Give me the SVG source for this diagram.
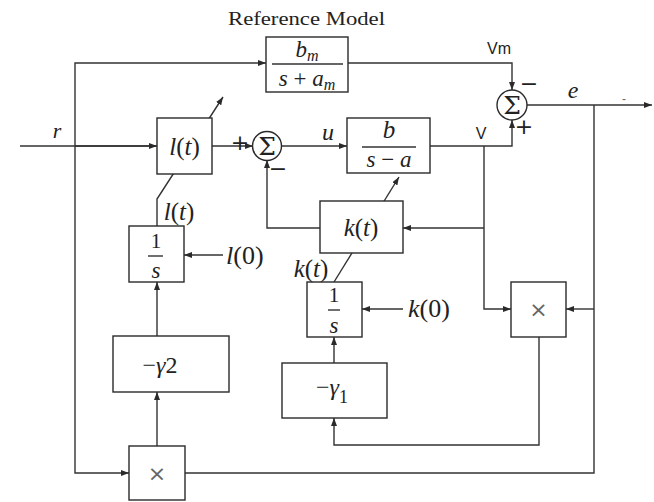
<svg xmlns="http://www.w3.org/2000/svg" width="654" height="502" viewBox="0 0 654 502">
<defs>
<marker id="ah" markerUnits="userSpaceOnUse" markerWidth="9" markerHeight="7" refX="8" refY="3" orient="auto">
<path d="M0,0 L8,3 L0,6 z" fill="#2a2a2a"/>
</marker>
<style>
.w{fill:none;stroke:#333;stroke-width:1.4}
.a{marker-end:url(#ah)}
.b{fill:#fff;stroke:#2a2a2a;stroke-width:1.4}
.m{font-family:"Liberation Serif",serif;font-style:italic;font-size:25px;fill:#222}
.n{font-family:"Liberation Serif",serif;font-size:25px;fill:#222}
.u{font-style:normal}
.s{font-family:"Liberation Sans",sans-serif;font-size:16px;fill:#222}
.sg{font-family:"DejaVu Serif",serif;font-size:25px;fill:#222}
.pm{font-family:"DejaVu Sans",sans-serif;font-size:22px;fill:#222}
.fl{stroke:#333;stroke-width:1.4}
.x{font-family:"DejaVu Sans",sans-serif;font-size:22px;fill:#666}
</style>
</defs>
<rect width="654" height="502" fill="#fff"/>
<g id="connectors">
<path class="w" d="M20,146 H156"/>
<path class="w a" d="M75,146 H157"/>
<path class="w a" d="M75,146 V63 H266"/>
<path class="w a" d="M75,146 V473 H129"/>
<path class="w a" d="M212,146 H253"/>
<path class="w a" d="M281,146 H347"/>
<path class="w a" d="M430,146 H512 V120"/>
<path class="w a" d="M348,63 H512 V90"/>
<path class="w a" d="M527,105 H652"/>
<path class="w" d="M594,105 V473 H185"/>
<path class="w a" d="M594,309 H566"/>
<path class="w a" d="M484,146 V309 H511"/>
<path class="w a" d="M484,228 H403"/>
<path class="w a" d="M539,337 V445 H334 V418"/>
<path class="w a" d="M334,363 V337"/>
<path class="w a" d="M320,228 H267 V160"/>
<path class="w a" d="M403,309 H362"/>
<path class="w a" d="M223,255 H184"/>
<path class="w a" d="M157,446 V392"/>
<path class="w a" d="M157,336 V282"/>
<path class="w a" d="M157,226 V199 L223,97"/>
<path class="w a" d="M334,282 L399,177"/>
</g>
<g id="title"><text class="n" x="228" y="25" style="font-size:19px" textLength="157" lengthAdjust="spacingAndGlyphs">Reference Model</text></g>
<g id="refmodel">
<rect class="b" x="266" y="37" width="82" height="55"/>
<line class="fl" x1="272" y1="64" x2="343" y2="64"/>
<text class="m" x="307" y="57" text-anchor="middle" style="font-size:23px">b<tspan style="font-size:16px" dy="4">m</tspan></text>
<text class="m" x="307" y="86" text-anchor="middle" style="font-size:23px">s <tspan class="u">+</tspan> a<tspan style="font-size:16px" dy="4">m</tspan></text>
</g>
<g id="lt">
<rect class="b" x="157" y="118" width="55" height="56"/>
<text class="m" x="184.5" y="155" text-anchor="middle">l<tspan class="u">(</tspan>t<tspan class="u">)</tspan></text>
</g>
<g id="sum1">
<circle class="b" cx="267" cy="146" r="14.5"/>
<text class="sg" x="267" y="155" text-anchor="middle">Σ</text>
<text class="pm" x="240" y="150" text-anchor="middle">+</text>
<text class="pm" x="278" y="176" text-anchor="middle">−</text>
</g>
<g id="plant">
<rect class="b" x="347" y="118" width="83" height="55"/>
<line class="fl" x1="362" y1="147" x2="416" y2="147"/>
<text class="m" x="389" y="138" text-anchor="middle">b</text>
<text class="m" x="389" y="167" text-anchor="middle" style="font-size:23px">s <tspan class="u">−</tspan> a</text>
</g>
<g id="sum2">
<circle class="b" cx="512" cy="105" r="15"/>
<text class="sg" x="512" y="114" text-anchor="middle">Σ</text>
<text class="pm" x="529" y="91" text-anchor="middle">−</text>
<text class="pm" x="524" y="134" text-anchor="middle">+</text>
</g>
<g id="kt">
<rect class="b" x="320" y="201" width="83" height="52"/>
<text class="m" x="361" y="236" text-anchor="middle">k<tspan class="u">(</tspan>t<tspan class="u">)</tspan></text>
</g>
<g id="int_l">
<rect class="b" x="129" y="226" width="55" height="56"/>
<text class="n" x="156" y="248" text-anchor="middle" style="font-size:21px">1</text>
<line class="fl" x1="148" y1="256" x2="163" y2="256"/>
<text class="m" x="156" y="278" text-anchor="middle" style="font-size:23px">s</text>
</g>
<g id="int_k">
<rect class="b" x="307" y="282" width="55" height="55"/>
<text class="n" x="334" y="302" text-anchor="middle" style="font-size:21px">1</text>
<line class="fl" x1="328" y1="310" x2="340" y2="310"/>
<text class="m" x="334" y="333" text-anchor="middle" style="font-size:23px">s</text>
</g>
<g id="mult1">
<rect class="b" x="511" y="282" width="55" height="55"/>
<text class="x" x="538.5" y="317" text-anchor="middle">×</text>
</g>
<g id="gamma2">
<rect class="b" x="113" y="336" width="116" height="56"/>
<text class="m" x="160" y="373" text-anchor="middle" style="font-size:24px"><tspan class="u">−</tspan>γ<tspan class="u">2</tspan></text>
</g>
<g id="gamma1">
<rect class="b" x="282" y="363" width="105" height="55"/>
<text class="m" x="332" y="395" text-anchor="middle" style="font-size:24px"><tspan class="u">−</tspan>γ<tspan class="u" style="font-size:18px" dy="8">1</tspan></text>
</g>
<g id="mult2">
<rect class="b" x="129" y="446" width="56" height="54"/>
<text class="x" x="157" y="481" text-anchor="middle">×</text>
</g>
<g id="labels">
<text class="m" x="57" y="138" text-anchor="middle" style="font-size:22px">r</text>
<text class="m" x="328" y="140" text-anchor="middle" style="font-size:24px">u</text>
<text class="s" x="481" y="139" text-anchor="middle">V</text>
<text class="s" x="499" y="54" text-anchor="middle">Vm</text>
<text class="m" x="573" y="98" text-anchor="middle" style="font-size:24px">e</text>
<text class="s" x="624" y="103" text-anchor="middle" style="font-size:12px;fill:#666">-</text>
<text class="m" x="179" y="220" text-anchor="middle">l<tspan class="u">(</tspan>t<tspan class="u">)</tspan></text>
<text class="m" x="226" y="264" style="font-size:26px">l<tspan class="u">(0)</tspan></text>
<text class="m" x="311" y="277" text-anchor="middle">k<tspan class="u">(</tspan>t<tspan class="u">)</tspan></text>
<text class="m" x="408" y="317" style="font-size:26px">k<tspan class="u">(0)</tspan></text>
</g>
</svg>
